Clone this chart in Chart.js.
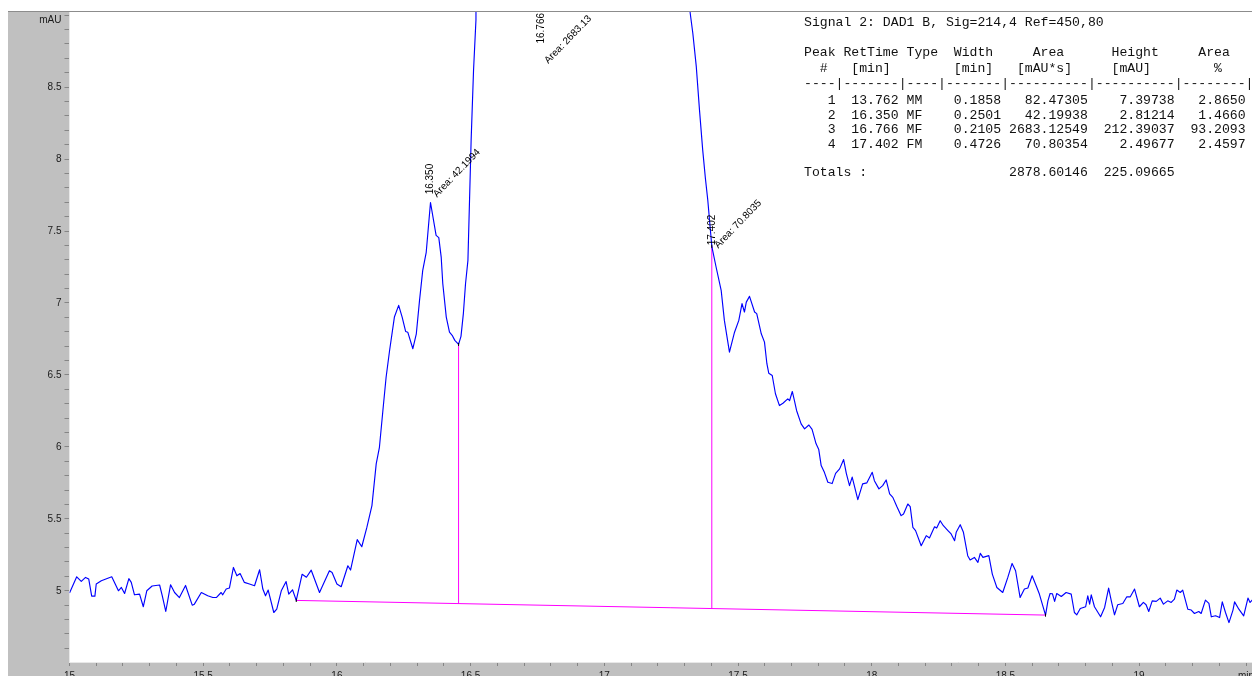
<!DOCTYPE html>
<html>
<head>
<meta charset="utf-8">
<title>DAD1 B chromatogram</title>
<script src="https://cdn.jsdelivr.net/npm/chart.js@4.4.1/dist/chart.umd.min.js"></script>
<style>
  html, body { margin: 0; padding: 0; overflow: hidden; background: #fff; width: 1252px; height: 676px; }
  #wrap { position: absolute; left: 0; top: 0; width: 1300px; height: 690px; }
  canvas { display: block; }
</style>
</head>
<body>
<div id="wrap"><canvas id="chrom" width="1300" height="690" style="width:1300px;height:690px"></canvas></div>
<script>
// ---- signal trace (retention time in min, absorbance in mAU) ----
const retTimes = [
  15.000, 15.027, 15.044, 15.060, 15.072, 15.083, 15.095, 15.100, 15.119, 15.158,
  15.183, 15.194, 15.206, 15.222, 15.231, 15.243, 15.262, 15.276, 15.289, 15.309,
  15.337, 15.347, 15.360, 15.378, 15.393, 15.411, 15.434, 15.459, 15.467, 15.493,
  15.517, 15.536, 15.549, 15.567, 15.573, 15.586, 15.598, 15.613, 15.626, 15.638,
  15.654, 15.673, 15.692, 15.711, 15.723, 15.733, 15.743, 15.764, 15.775, 15.792,
  15.810, 15.820, 15.834, 15.848, 15.870, 15.886, 15.904, 15.935, 15.972, 15.982,
  16.000, 16.016, 16.041, 16.051, 16.076, 16.093, 16.112, 16.131, 16.147, 16.159,
  16.172, 16.184, 16.197, 16.215, 16.231, 16.244, 16.257, 16.265, 16.284, 16.297,
  16.309, 16.321, 16.334, 16.350, 16.371, 16.381, 16.390, 16.396, 16.409, 16.421,
  16.431, 16.441, 16.455, 16.464, 16.473, 16.481, 16.490, 16.502, 16.511, 16.520,
  16.766,
  17.321, 17.331, 17.344, 17.356, 17.368, 17.378, 17.387, 17.402, 17.418, 17.437,
  17.449, 17.468, 17.487, 17.503, 17.515, 17.524, 17.531, 17.543, 17.562, 17.570,
  17.587, 17.599, 17.608, 17.615, 17.628, 17.640, 17.655, 17.668, 17.686, 17.693,
  17.703, 17.711, 17.719, 17.736, 17.749, 17.765, 17.777, 17.792, 17.802, 17.811,
  17.823, 17.836, 17.852, 17.865, 17.880, 17.895, 17.905, 17.917, 17.927, 17.948,
  17.966, 17.982, 18.002, 18.010, 18.027, 18.041, 18.054, 18.067, 18.079, 18.094,
  18.110, 18.119, 18.135, 18.144, 18.154, 18.164, 18.185, 18.204, 18.216, 18.235,
  18.243, 18.256, 18.268, 18.285, 18.297, 18.310, 18.316, 18.331, 18.343, 18.359,
  18.368, 18.384, 18.397, 18.406, 18.416, 18.438, 18.451, 18.468, 18.490, 18.509,
  18.525, 18.538, 18.555, 18.571, 18.584, 18.600, 18.615, 18.627, 18.650, 18.659,
  18.667, 18.676, 18.684, 18.692, 18.709, 18.727, 18.746, 18.758, 18.767, 18.780,
  18.800, 18.808, 18.815, 18.821, 18.833, 18.856, 18.871, 18.886, 18.896, 18.908,
  18.920, 18.939, 18.954, 18.967, 18.983, 19.001, 19.016, 19.026, 19.036, 19.049,
  19.064, 19.079, 19.091, 19.107, 19.120, 19.132, 19.141, 19.154, 19.163, 19.182,
  19.195, 19.207, 19.223, 19.232, 19.248, 19.261, 19.270, 19.286, 19.301, 19.311,
  19.323, 19.336, 19.351, 19.357, 19.373, 19.391, 19.407, 19.415, 19.428
];
const signal = [
  4.984, 5.097, 5.065, 5.093, 5.081, 4.963, 4.963, 5.047, 5.070, 5.097,
  5.000, 5.023, 4.981, 5.084, 5.058, 4.972, 4.977, 4.889, 5.000, 5.033,
  5.040, 4.965, 4.856, 5.042, 4.988, 4.953, 5.037, 4.900, 4.907, 4.988,
  4.965, 4.953, 4.953, 4.988, 4.972, 5.012, 5.019, 5.162, 5.104, 5.120,
  5.058, 5.047, 5.035, 5.146, 5.012, 4.965, 5.005, 4.849, 4.872, 5.000,
  5.064, 4.977, 5.007, 4.933, 5.115, 5.094, 5.143, 4.988, 5.139, 5.127,
  5.047, 5.028, 5.174, 5.144, 5.355, 5.306, 5.440, 5.592, 5.882, 5.997,
  6.253, 6.484, 6.670, 6.902, 6.983, 6.902, 6.802, 6.797, 6.682, 6.786,
  7.018, 7.227, 7.352, 7.698, 7.470, 7.454, 7.319, 7.134, 6.902, 6.797,
  6.775, 6.740, 6.712, 6.768, 6.928, 7.134, 7.296, 8.132, 8.619, 8.967,
  217.29,
  9.017, 8.874, 8.642, 8.340, 8.062, 7.867, 7.714, 7.394, 7.250, 7.088,
  6.879, 6.658, 6.797, 6.879, 6.995, 6.937, 7.006, 7.046, 6.937, 6.926,
  6.786, 6.728, 6.578, 6.512, 6.496, 6.369, 6.287, 6.303, 6.334, 6.322,
  6.385, 6.322, 6.253, 6.160, 6.125, 6.152, 6.122, 6.021, 5.981, 5.870,
  5.823, 5.754, 5.745, 5.816, 5.847, 5.912, 5.816, 5.731, 5.790, 5.633,
  5.743, 5.750, 5.823, 5.765, 5.708, 5.731, 5.770, 5.673, 5.649, 5.585,
  5.522, 5.534, 5.603, 5.585, 5.440, 5.418, 5.313, 5.383, 5.367, 5.445,
  5.436, 5.487, 5.452, 5.418, 5.395, 5.348, 5.406, 5.459, 5.406, 5.244,
  5.214, 5.232, 5.197, 5.260, 5.232, 5.244, 5.116, 5.023, 4.988, 5.093,
  5.190, 5.139, 4.953, 5.012, 5.019, 5.104, 5.035, 4.977, 4.831, 4.930,
  4.981, 4.979, 4.926, 4.981, 4.960, 4.988, 4.977, 4.849, 4.833, 4.877,
  4.889, 4.965, 4.907, 4.972, 4.889, 4.819, 4.884, 5.019, 4.930, 4.833,
  4.903, 4.912, 4.958, 4.958, 5.012, 4.889, 4.919, 4.903, 4.856, 4.930,
  4.926, 4.949, 4.907, 4.930, 4.919, 4.942, 5.005, 4.988, 5.005, 4.872,
  4.866, 4.842, 4.856, 4.842, 4.935, 4.912, 4.819, 4.826, 4.814, 4.923,
  4.849, 4.779, 4.866, 4.923, 4.872, 4.826, 4.949, 4.919, 4.945
];

// ---- integration baseline and peak splits ----
const baseTimes = [15.848, 18.650];
const baseValues = [4.933, 4.831];
const dropTimes = [16.455, 17.402];

// ---- peak report table ----
const signalTitle = 'Signal 2: DAD1 B, Sig=214,4 Ref=450,80';
const peakNo = [1, 2, 3, 4];
const peakRT = [13.762, 16.350, 16.766, 17.402];
const peakType = ['MM', 'MF', 'MF', 'FM'];
const peakWidth = [0.1858, 0.2501, 0.2105, 0.4726];
const peakArea = [82.47305, 42.19938, 2683.12549, 70.80354];
const peakHeight = [7.39738, 2.81214, 212.39037, 2.49677];
const peakAreaPct = [2.8650, 1.4660, 93.2093, 2.4597];
const totalArea = 2878.60146;
const totalHeight = 225.09665;

// peaks of the report that fall inside the time window get a label
const labelledPeaks = [1, 2, 3];

// ---- axes ----
const xTickValues = [15, 15.5, 16, 16.5, 17, 17.5, 18, 18.5, 19, 19.4];
const xTickLabels = ['15', '15.5', '16', '16.5', '17', '17.5', '18', '18.5', '19', 'min'];
const yTickValues = [5, 5.5, 6, 6.5, 7, 7.5, 8, 8.5, 9];
const yTickLabels = ['5', '5.5', '6', '6.5', '7', '7.5', '8', '8.5', 'mAU'];
const xRange = [15, 19.43];
const yRange = [4.505, 9.022];

const yUnitIndex = yTickLabels.length - 1;

function lookupLabel(values, labels, v) {
  for (let i = 0; i < values.length; i++) {
    if (Math.abs(values[i] - v) < 1e-6) return labels[i];
  }
  return '';
}
function signalAt(t) {
  let best = 0;
  for (let i = 1; i < retTimes.length; i++) {
    if (Math.abs(retTimes[i] - t) < Math.abs(retTimes[best] - t)) best = i;
  }
  return signal[best];
}
function baselineAt(t) {
  const f = (t - baseTimes[0]) / (baseTimes[1] - baseTimes[0]);
  return baseValues[0] + f * (baseValues[1] - baseValues[0]);
}

const tracePoints = retTimes.map((t, i) => ({ x: t, y: signal[i] }));
const basePoints = baseTimes.map((t, i) => ({ x: t, y: baseValues[i] }));

// small black event ticks at baseline ends and peak splits
const eventPoints = basePoints.concat(dropTimes.map(t => ({ x: t, y: signalAt(t) })));

const datasets = [
  { data: eventPoints, showLine: false, pointStyle: 'line', rotation: 90, pointRadius: 1.6,
    pointBorderColor: '#000000', pointBorderWidth: 1, pointBackgroundColor: '#000000' },
  { data: tracePoints, borderColor: '#0000ff', borderWidth: 1.15, pointRadius: 0, tension: 0, borderJoinStyle: 'round' },
  { data: basePoints, borderColor: '#ff00ff', borderWidth: 1, pointRadius: 0 }
];
dropTimes.forEach(t => {
  datasets.push({
    data: [{ x: t, y: baselineAt(t) }, { x: t, y: signalAt(t) }],
    borderColor: '#ff00ff', borderWidth: 1, pointRadius: 0
  });
});

const axisFont = { family: '"Liberation Sans", Arial, sans-serif', size: 10 };

// grey frame around the plotting area, and the unit label of the y axis
const framePlugin = {
  id: 'frame',
  beforeDraw(chart) {
    const { ctx, chartArea: a, width, height } = chart;
    ctx.save();
    ctx.fillStyle = '#ffffff';
    ctx.fillRect(0, 0, width, height);
    ctx.fillStyle = '#c0c0c0';
    ctx.fillRect(8, 12, width - 8, height - 12);
    ctx.fillStyle = '#ffffff';
    ctx.fillRect(a.left, a.top, a.right - a.left, a.bottom - a.top);
    ctx.strokeStyle = '#8c8c8c';
    ctx.lineWidth = 1;
    ctx.beginPath();
    ctx.moveTo(8, 11.5);
    ctx.lineTo(width, 11.5);
    ctx.stroke();
    ctx.restore();
  },
  afterDraw(chart) {
    const { ctx, scales } = chart;
    const ys = scales.y;
    const y = ys.getPixelForValue(yTickValues[yUnitIndex]);
    ctx.save();
    ctx.font = '10px "Liberation Sans", Arial, sans-serif';
    ctx.fillStyle = '#1a1a1a';
    ctx.textAlign = 'right';
    ctx.textBaseline = 'middle';
    ctx.fillText(yTickLabels[yUnitIndex], ys.right - 5 - 3, y + 5);
    ctx.restore();
  }
};

// retention time and area annotations
const peakLabelPlugin = {
  id: 'peakLabels',
  afterDatasetsDraw(chart) {
    const { ctx, chartArea: a, scales } = chart;
    const ang = 46 * Math.PI / 180;
    ctx.save();
    ctx.font = '10px "Liberation Sans", Arial, sans-serif';
    ctx.fillStyle = '#000000';
    ctx.textBaseline = 'middle';
    ctx.textAlign = 'left';
    labelledPeaks.forEach(k => {
      const rt = peakRT[k];
      const x = scales.x.getPixelForValue(rt);
      const rtText = rt.toFixed(3);
      const wRt = ctx.measureText(rtText).width;
      // apex = baseline under the peak + reported height
      let yA = scales.y.getPixelForValue(baselineAt(rt) + peakHeight[k]) - 4;
      yA = Math.max(yA, a.top + wRt + 1);
      ctx.save();
      ctx.translate(x, yA);
      ctx.rotate(-Math.PI / 2);
      ctx.fillText(rtText, 0, 0);
      ctx.restore();

      const areaText = 'Area: ' + peakArea[k].toPrecision(6);
      const wA = ctx.measureText(areaText).width;
      let yS = yA + 1.5;
      yS = Math.max(yS, a.top + wA * Math.sin(ang) + 5);
      ctx.save();
      ctx.translate(x + 4.5, yS);
      ctx.rotate(-ang);
      ctx.fillText(areaText, 0, 0);
      ctx.restore();
    });
    ctx.restore();
  }
};

function padL(s, n) { s = String(s); while (s.length < n) s = ' ' + s; return s; }

// integration report in the upper right corner
const reportPlugin = {
  id: 'report',
  afterDraw(chart) {
    const ctx = chart.ctx;
    const lines = [signalTitle, '',
      'Peak RetTime Type  Width     Area      Height     Area  ',
      '  #   [min]        [min]   [mAU*s]     [mAU]        %   ',
      '----|-------|----|-------|----------|----------|--------|'];
    peakNo.forEach((n, i) => {
      lines.push(padL(n, 4) + ' ' + padL(peakRT[i].toFixed(3), 7) + ' ' +
        (peakType[i] + '  ') + ' ' + padL(peakWidth[i].toFixed(4), 7) + ' ' +
        padL(peakArea[i].toFixed(5), 10) + ' ' + padL(peakHeight[i].toFixed(5), 10) + ' ' +
        padL(peakAreaPct[i].toFixed(4), 8));
    });
    lines.push('');
    lines.push('Totals :' + padL('', 18) + totalArea.toFixed(5) + ' ' + padL(totalHeight.toFixed(5), 10));
    const ys = [23, null, 53, 68.5, 84, 100.5, 115.5, 130, 145, null, 173];
    ctx.save();
    ctx.font = '13.15px "Liberation Mono", "Courier New", monospace';
    ctx.fillStyle = '#111111';
    ctx.textBaseline = 'middle';
    ctx.textAlign = 'left';
    lines.forEach((ln, i) => { if (ys[i] !== null && ln) ctx.fillText(ln, 804, ys[i]); });
    ctx.restore();
  }
};

new Chart(document.getElementById('chrom'), {
  type: 'line',
  data: { datasets },
  plugins: [framePlugin, peakLabelPlugin, reportPlugin],
  options: {
    responsive: false,
    animation: false,
    events: [],
    layout: { padding: { left: 8, top: 12, right: 45.9, bottom: 0 } },
    plugins: { legend: { display: false }, tooltip: { enabled: false } },
    scales: {
      x: {
        type: 'linear', position: 'bottom', min: xRange[0], max: xRange[1],
        afterFit: s => { s.height = 28; },
        ticks: {
          stepSize: 0.1, autoSkip: false, maxRotation: 0, includeBounds: false,
          padding: 4, color: '#1a1a1a', font: axisFont,
          callback: v => lookupLabel(xTickValues, xTickLabels, v)
        },
        grid: { drawOnChartArea: false, drawTicks: true, tickLength: 4, color: '#858585' },
        border: { display: true, color: '#e8e8e8' }
      },
      y: {
        type: 'linear', position: 'left', min: yRange[0], max: yRange[1],
        afterFit: s => { s.width = 61.5; },
        ticks: {
          stepSize: 0.1, autoSkip: false, includeBounds: false,
          padding: 3, color: '#1a1a1a', font: axisFont,
          callback: v => {
            const lab = lookupLabel(yTickValues, yTickLabels, v);
            return lab === yTickLabels[yUnitIndex] ? '' : lab;
          }
        },
        grid: { drawOnChartArea: false, drawTicks: true, tickLength: 5, color: '#858585' },
        border: { display: true, color: '#e8e8e8' }
      }
    }
  }
});
</script>
</body>
</html>
